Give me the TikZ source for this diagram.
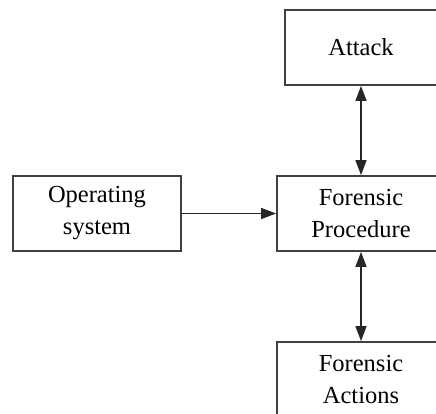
\documentclass[tikz,border=0pt]{standalone}
\usepackage{fontspec}
\setmainfont{Liberation Serif}
\usetikzlibrary{arrows.meta}
\begin{document}
\begin{tikzpicture}[x=1pt,y=-1pt,
  box/.style={draw=black!75,line width=1.8pt,minimum width=168pt,minimum height=75pt,
    align=center,font=\fontsize{24.5}{32}\selectfont,inner sep=0pt,anchor=center},
  conn/.style={line width=1.6pt,black!85,{Triangle[length=15pt,width=11pt]}-{Triangle[length=15pt,width=11pt]}},
  conn1/.style={line width=1.6pt,black!85,-{Triangle[length=15pt,width=11pt]}}]
\useasboundingbox (0,0) rectangle (436,413);
\clip (0,0) rectangle (436,413);
\node[box,minimum width=152pt] (att) at (361,47.5) {Attack};
\node[box] (os) at (97,213.5) {Operating\\system};
\node[box] (fp) at (361,213.5) {Forensic\\Procedure};
\node[box] (fa) at (361,379.5) {Forensic\\Actions};
\draw[conn1] (os) -- (fp);
\draw[conn] (att) -- (fp);
\draw[conn] (fp) -- (fa);
\end{tikzpicture}
\end{document}
